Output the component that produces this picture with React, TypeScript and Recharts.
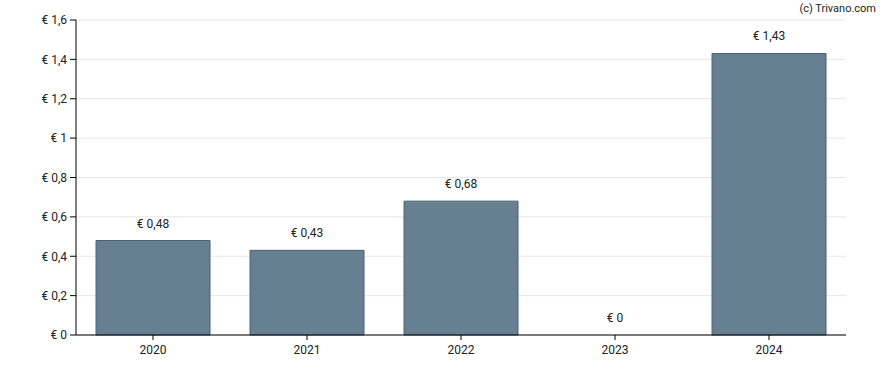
import React from "react";
import { BarChart, Bar, XAxis, YAxis, CartesianGrid, LabelList, ReferenceDot } from "recharts";

const years = ["2020", "2021", "2022", "2023", "2024"];
const dividends = [0.48, 0.43, 0.68, 0, 1.43];
const yTicks = [0, 0.2, 0.4, 0.6, 0.8, 1, 1.2, 1.4, 1.6];

const data = years.map((y, i) => ({ year: y, value: dividends[i] }));

const fmt = (v: number) => "€ " + String(v).replace(".", ",");

const FONT = "Roboto, 'Noto Sans', sans-serif";
const LABEL_STYLE = { fill: "#222", fontSize: 12, fontFamily: FONT };

const BarLabel = (props: any) => {
  const { x, y, width, value } = props;
  if (x == null || y == null) return null;
  return (
    <text x={Number(x) + Number(width) / 2} y={Number(y) - 13} textAnchor="middle" style={LABEL_STYLE}>
      {fmt(Number(value))}
    </text>
  );
};

const makeZeroLabel = (value: number) => (props: any) => {
  const vb = props.viewBox || {};
  const cx = Number(vb.x) + Number(vb.width || 0) / 2;
  const cy = Number(vb.y);
  return (
    <text x={cx} y={cy - 13} textAnchor="middle" style={LABEL_STYLE}>
      {fmt(value)}
    </text>
  );
};

export default function App() {
  return (
    <div style={{ position: "absolute", left: 0, top: 0, width: 888, height: 370, background: "#fff", fontFamily: FONT }}>
      <BarChart
        width={888}
        height={370}
        data={data}
        margin={{ top: 20, right: 42, bottom: 5, left: 0 }}
        barCategoryGap="13%"
      >
        <CartesianGrid vertical={false} stroke="#e6e6e6" />
        <XAxis
          dataKey="year"
          height={30}
          stroke="#000"
          tick={{ fill: "#222", fontSize: 12, fontFamily: FONT }}
          tickLine={{ stroke: "#000" }}
          tickSize={5}
          tickMargin={5}
        />
        <YAxis
          width={76}
          domain={[0, 1.6]}
          ticks={yTicks}
          interval={0}
          stroke="#000"
          tickFormatter={fmt}
          tick={{ fill: "#222", fontSize: 12, fontFamily: FONT }}
          tickLine={{ stroke: "#000" }}
          tickMargin={3}
        />
        <Bar dataKey="value" fill="#668091" stroke="#4a6274" strokeWidth={1} isAnimationActive={false}>
          <LabelList dataKey="value" content={BarLabel} />
        </Bar>
        {data
          .filter((d) => d.value === 0)
          .map((d) => (
            <ReferenceDot
              key={d.year}
              x={d.year}
              y={d.value}
              r={0}
              fill="none"
              stroke="none"
              ifOverflow="visible"
              label={makeZeroLabel(d.value)}
            />
          ))}
        <text x={876} y={12} textAnchor="end" style={{ fill: "#222", fontSize: 11, fontFamily: FONT }}>
          (c) Trivano.com
        </text>
      </BarChart>
    </div>
  );
}
